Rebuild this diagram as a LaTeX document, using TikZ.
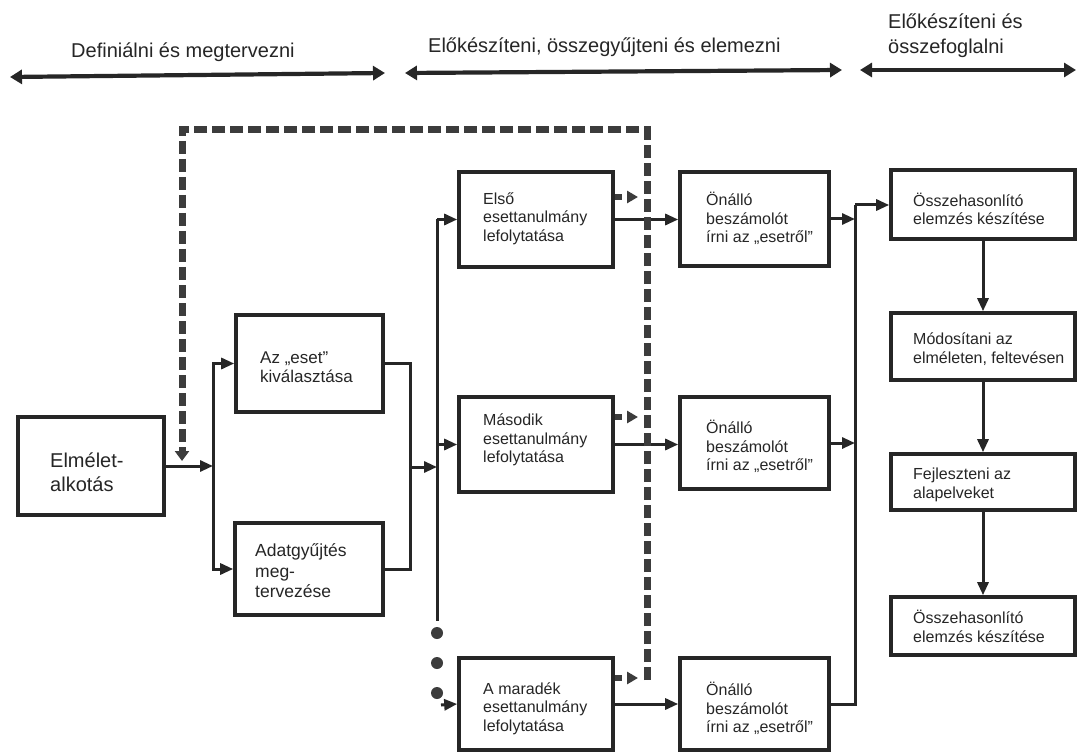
\documentclass[tikz,border=0pt]{standalone}
\usepackage{fontspec}
\setmainfont{Liberation Sans}
\usetikzlibrary{arrows.meta}
\definecolor{ink}{HTML}{262626}
\definecolor{dashink}{HTML}{3C3C3C}
\begin{document}
\begin{tikzpicture}[x=1pt,y=-1pt,
  box/.style={draw=ink, line width=3.6pt, inner sep=0pt, minimum width=#1},
  txt/.style={align=left, anchor=west, inner sep=0pt, text=ink,
              font=\fontsize{16}{18.5}\selectfont},
  conn/.style={draw=ink, line width=3pt},
  arr/.style={-{Triangle[length=13pt,width=11pt]}},
  hdr/.style={draw=ink, line width=4.2pt,
              {Triangle[length=12pt,width=14pt]}-{Triangle[length=12pt,width=14pt]}},
  hdrtxt/.style={inner sep=0pt, text=ink, font=\fontsize{20}{25}\selectfont},
  loopline/.style={draw=dashink, line width=7pt, dash pattern=on 13pt off 5pt,
              line join=miter, -{Triangle[length=10pt,width=14pt]}},
  sdash/.style={draw=dashink, line width=6pt, dash pattern=on 7pt off 6pt,
              -{Triangle[length=11pt,width=12pt]}},
  dot/.style={circle, fill=dashink, inner sep=0pt, minimum size=12pt}]

% page
\fill[white] (0,0) rectangle (1079,754);
\useasboundingbox (0,0) rectangle (1079,754);

% phase arrows and their titles
\coordinate (h1a) at (10,77);   \coordinate (h1b) at (385,73);
\coordinate (h2a) at (405,73);  \coordinate (h2b) at (842,70);
\coordinate (h3a) at (860,70);  \coordinate (h3b) at (1076,70);
\draw[hdr] (h1a) -- (h1b);
\draw[hdr] (h2a) -- (h2b);
\draw[hdr] (h3a) -- (h3b);
\node[hdrtxt, anchor=base west] (p1) at (71,58) {Definiálni és megtervezni};
\node[hdrtxt, anchor=base west] (p2) at (428,53) {Előkészíteni, összegyűjteni és elemezni};
\node[hdrtxt, anchor=west, align=left] (p3) at (888,36) {Előkészíteni és\\összefoglalni};

% design stage
\node[box=146pt, minimum height=98pt] (el) at (91,466) {};
\node[txt, font=\fontsize{20}{24}\selectfont] (elt) at (50,472) {Elmélet-\\alkotás};
\node[box=147pt, minimum height=97pt] (az) at (309.5,363.5) {};
\node[txt, font=\fontsize{17}{19}\selectfont] (azt) at (260,367) {Az „eset”\\kiválasztása};
\node[box=148pt, minimum height=92pt] (ad) at (309,569) {};
\node[txt, font=\fontsize{17.5}{20.5}\selectfont] (adt) at (255,571) {Adatgyűjtés\\meg-\\tervezése};

% case studies
\node[box=154pt, minimum height=95pt] (e1) at (536,219.5) {};
\node[txt] (e1t) at (483,218.5) {Első\\esettanulmány\\lefolytatása};
\node[box=154pt, minimum height=95pt] (e2) at (536,444.5) {};
\node[txt] (e2t) at (483,440) {Második\\esettanulmány\\lefolytatása};
\node[box=154pt, minimum height=92pt] (e3) at (536,704) {};
\node[txt] (e3t) at (483,708.5) {A maradék\\esettanulmány\\lefolytatása};

% individual reports
\node[box=149pt, minimum height=94pt] (r1) at (754.5,219) {};
\node[txt] (r1t) at (706,218.5) {Önálló\\beszámolót\\írni az „esetről”};
\node[box=149pt, minimum height=92pt] (r2) at (754.5,443) {};
\node[txt] (r2t) at (706,446.5) {Önálló\\beszámolót\\írni az „esetről”};
\node[box=149pt, minimum height=92pt] (r3) at (754.5,704) {};
\node[txt] (r3t) at (706,708.5) {Önálló\\beszámolót\\írni az „esetről”};

% conclusion column
\node[box=184pt, minimum height=69pt] (c1) at (983,204.5) {};
\node[txt] (c1t) at (913,209) {Összehasonlító\\elemzés készítése};
\node[box=184pt, minimum height=67pt] (c2) at (983,346.5) {};
\node[txt] (c2t) at (913,349) {Módosítani az\\elméleten, feltevésen};
\node[box=184pt, minimum height=56pt] (c3) at (983,482) {};
\node[txt] (c3t) at (913,485) {Fejleszteni az\\alapelveket};
\node[box=184pt, minimum height=58pt] (c4) at (983,626) {};
\node[txt] (c4t) at (913,626.5) {Összehasonlító\\elemzés készítése};

% junction points
\coordinate (j1) at (213,466);
\coordinate (j2) at (410,467);
\coordinate (j3) at (437,467);
\coordinate (s1) at (437,219.5);
\coordinate (s2) at (437,621);
\coordinate (s3) at (441,705);
\coordinate (t1) at (855,205);

% theory -> selection and data collection design
\draw[conn, arr] (el.east) -- (j1);
\draw[conn, arr] (j1) |- (az.west);
\draw[conn, arr] (j1) |- (ad.west);
\draw[conn] (az.east) -| (j2) |- (ad.east);
\draw[conn, arr] (j2) -- (j3);

% spine feeding the case studies
\draw[conn] (s1) -- (s2);
\draw[conn, arr] (s1) -- (e1.west);
\draw[conn, arr] (s1 |- e2.west) -- (e2.west);
\node[dot] (d1) at (437,633) {};
\node[dot] (d2) at (437,663) {};
\node[dot] (d3) at (437,693) {};
\draw[conn, arr] (s3) -- (e3.west);

% case studies -> reports
\draw[conn, arr] (e1.east) -- (e1.east -| r1.west);
\draw[conn, arr] (e2.east) -- (e2.east -| r2.west);
\draw[conn, arr] (e3.east) -- (e3.east -| r3.west);

% reports -> comparative analysis
\draw[conn, arr] (r1.east) -- (r1.east -| t1);
\draw[conn, arr] (r2.east) -- (r2.east -| t1);
\draw[conn] (r3.east) -| (t1);
\draw[conn, arr] (t1) -- (t1 -| c1.west);

% conclusion chain
\draw[conn, arr] (c1.south) -- (c2.north);
\draw[conn, arr] (c2.south) -- (c3.north);
\draw[conn, arr] (c3.south) -- (c4.north);

% feedback loop back to theory
\coordinate (f1) at (647,680);
\coordinate (f2) at (647,130);
\coordinate (f3) at (182,130);
\coordinate (f4) at (182,461);
\draw[loopline] (f1) -- (f2) -- (f3) -- (f4);
\coordinate (g1) at (638,197);
\coordinate (g2) at (638,417);
\coordinate (g3) at (638,678);
\draw[sdash] (e1.east |- g1) -- (g1);
\draw[sdash] (e2.east |- g2) -- (g2);
\draw[sdash] (e3.east |- g3) -- (g3);
\end{tikzpicture}
\end{document}
